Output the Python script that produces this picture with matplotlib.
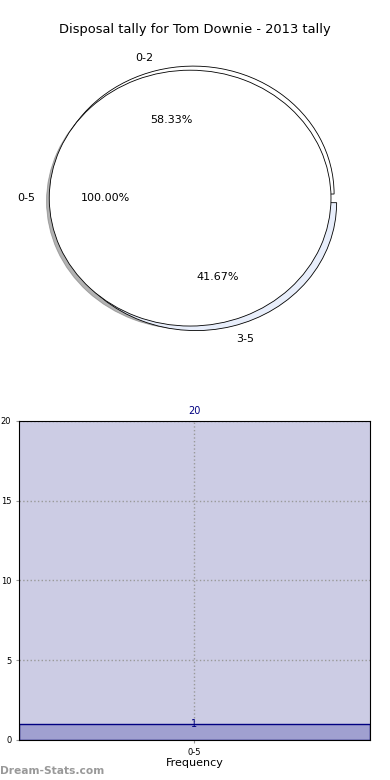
import matplotlib
matplotlib.use('Agg')
import matplotlib.pyplot as plt

# data
title = 'Disposal tally for Tom Downie - 2013 tally'
outer_labels = ['0-5']
outer_values = [100.0]
split_labels = ['0-2', '3-5']
split_values = [58.33, 41.67]
bar_labels = ['0-5']
bar_values = [1]
y_max = 20

fig = plt.figure(figsize=(3.9, 7.8), dpi=100)

# top: two pies stacked, the split one slightly offset behind
ax1 = fig.add_axes([0.036, 0.541, 0.903, 0.410])
ax1.pie(split_values, labels=split_labels, autopct='%.2f%%',
        colors=['white', '#e8eefb'], explode=[0, 0.07], center=(0.022, 0.032),
        wedgeprops=dict(edgecolor='black', linewidth=0.6),
        textprops=dict(fontsize=8))
ax1.pie(outer_values, labels=outer_labels, autopct='%.2f%%',
        shadow=dict(ox=-0.014, oy=-0.018, shade=0.6),
        colors=['white'], wedgeprops=dict(edgecolor='black', linewidth=0.6),
        textprops=dict(fontsize=8))
ax1.set_aspect('auto')
ax1.set_xlim(-1.25, 1.25)
ax1.set_ylim(-1.25, 1.25)
fig.text(0.5, 0.962, title, ha='center', va='center', fontsize=9.4)

# bottom: bar
ax2 = fig.add_axes([0.0487, 0.0513, 0.9, 0.409])
ax2.set_facecolor('#ccccE4')
x = list(range(len(bar_labels)))
ax2.bar(x, bar_values, width=1.0, color='#a0a0d0', edgecolor='#000080',
        linewidth=1, zorder=2)
for xi, v in zip(x, bar_values):
    ax2.text(xi, v, str(v), ha='center', va='center', color='#000080', fontsize=7, zorder=3)
ax2.text(0, y_max + 0.3, str(y_max), ha='center', va='bottom', color='#000080', fontsize=7)
ax2.set_xlim(-0.5, 0.5)
ax2.set_ylim(0, y_max)
ax2.set_yticks([0, 5, 10, 15, 20])
ax2.set_xticks(x)
ax2.set_xticklabels(bar_labels)
ax2.tick_params(labelsize=6, length=2, color='#999999')
ax2.grid(True, linestyle=':', color='#999999', linewidth=1, zorder=1)
ax2.set_axisbelow(True)
ax2.set_xlabel('Frequency', fontsize=8, labelpad=1)
ax2.set_ylabel('Disposal Tally', fontsize=7.5)
ax2.yaxis.set_label_coords(-0.075, 0.5)

fig.text(0.0, 0.012, 'Dream-Stats.com', fontsize=7.7, color='#999999',
         fontweight='bold', ha='left', va='center')

fig.savefig('out.png', dpi=100)
